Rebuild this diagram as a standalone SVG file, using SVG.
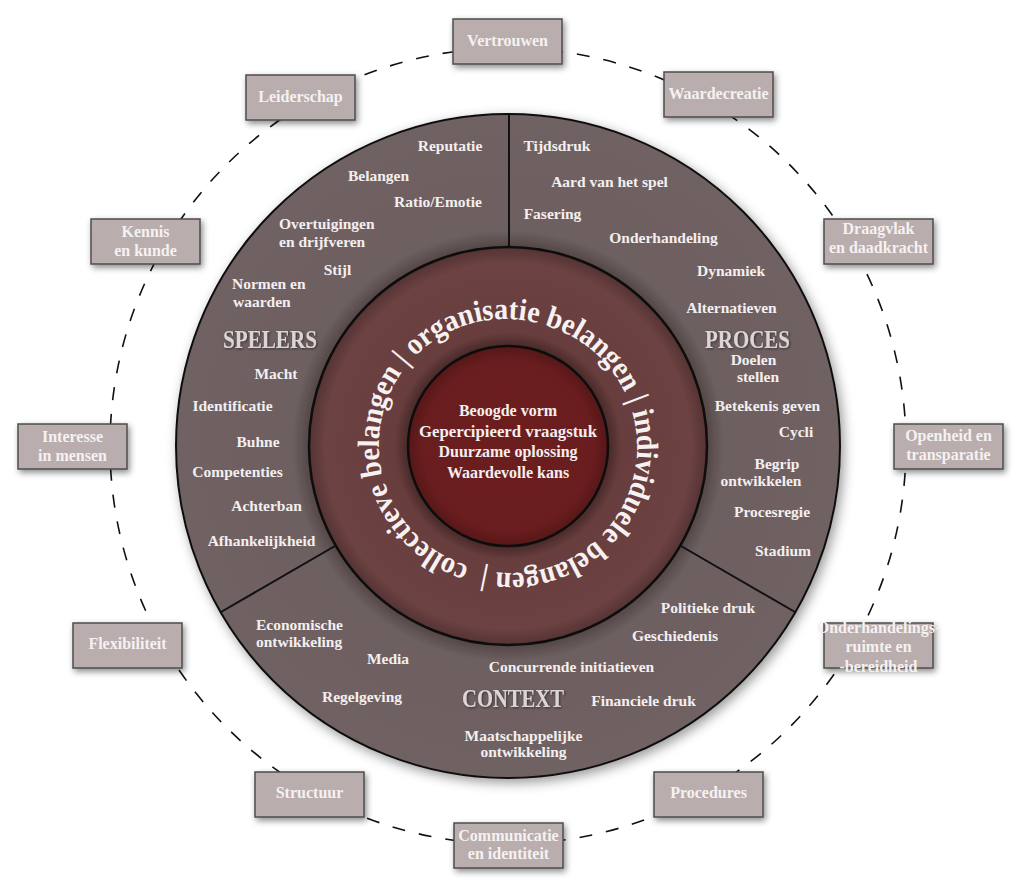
<svg xmlns="http://www.w3.org/2000/svg" width="1024" height="890" viewBox="0 0 1024 890">
<defs>
<filter id="shadow" x="-20%" y="-20%" width="140%" height="150%">
<feDropShadow dx="2" dy="3" stdDeviation="3" flood-color="#000" flood-opacity="0.45"/>
</filter>
<filter id="bigshadow" x="-10%" y="-10%" width="120%" height="120%">
<feDropShadow dx="3" dy="4" stdDeviation="6" flood-color="#000" flood-opacity="0.4"/>
</filter>
<filter id="txtshadow" x="-10%" y="-30%" width="120%" height="160%">
<feDropShadow dx="1" dy="1" stdDeviation="1" flood-color="#2a2020" flood-opacity="0.8"/>
</filter>
<radialGradient id="ringGrad" gradientUnits="userSpaceOnUse" cx="508" cy="446" r="199">
<stop offset="0.5" stop-color="#462828"/>
<stop offset="0.57" stop-color="#683d3d"/>
<stop offset="0.92" stop-color="#6c4242"/>
<stop offset="1" stop-color="#553333"/>
</radialGradient>
<radialGradient id="innerGrad" gradientUnits="userSpaceOnUse" cx="508" cy="446" r="100">
<stop offset="0" stop-color="#6c1e1f"/>
<stop offset="0.85" stop-color="#6a1d1e"/>
<stop offset="1" stop-color="#561718"/>
</radialGradient>
<radialGradient id="mainGrad" gradientUnits="userSpaceOnUse" cx="508" cy="446" r="332">
<stop offset="0.6" stop-color="#554747"/>
<stop offset="0.65" stop-color="#6d6060"/>
<stop offset="1" stop-color="#706263"/>
</radialGradient>
<path id="ringPath" d="M469.1,565.8 A126,126 0 1,1 546.9,326.2 A126,126 0 1,1 469.1,565.8"/>
</defs>
<style>
.box{fill:#b9adae;stroke:#4d4d4d;stroke-width:1.5;}
.bt{font-family:"Liberation Serif",serif;font-weight:bold;font-size:16px;fill:#f6f1f1;text-anchor:middle;}
.it{font-family:"Liberation Serif",serif;font-weight:bold;font-size:15.5px;fill:#f4efef;}
.m{text-anchor:middle;}
.sec{font-family:"Liberation Serif",serif;font-weight:bold;font-size:25px;fill:#dcd5d5;}
.ring{font-family:"Liberation Serif",serif;font-weight:bold;font-size:30.5px;fill:#f7f2f2;}
.core{font-family:"Liberation Serif",serif;font-weight:bold;font-size:16px;fill:#f4eeee;text-anchor:middle;}
</style>
<rect width="1024" height="890" fill="#ffffff"/>

<g id="connectors">
<circle cx="508" cy="446" r="398" fill="none" stroke="#111" stroke-width="1.6" stroke-dasharray="13 14"/>
</g>

<g id="main-circle">
<circle cx="508" cy="446" r="332" fill="url(#mainGrad)" stroke="#111" stroke-width="2" filter="url(#bigshadow)"/>
<line x1="509" y1="115" x2="509" y2="248" stroke="#111" stroke-width="2"/>
<line x1="335" y1="546" x2="221" y2="612" stroke="#111" stroke-width="2"/>
<line x1="681" y1="546" x2="795" y2="612" stroke="#111" stroke-width="2"/>
</g>

<g id="ring">
<circle cx="508" cy="446" r="199" fill="url(#ringGrad)" stroke="#0d0d0d" stroke-width="2.5"/>
<text class="ring"><textPath href="#ringPath" textLength="790" lengthAdjust="spacingAndGlyphs">collectieve belangen | organisatie belangen | individuele belangen | </textPath></text>
</g>

<g id="core">
<circle cx="508" cy="446" r="100" fill="url(#innerGrad)" stroke="#0d0d0d" stroke-width="2.5"/>
<text class="core" x="508" y="416">Beoogde vorm</text>
<text class="core" x="508" y="436.5" textLength="178" lengthAdjust="spacingAndGlyphs">Gepercipieerd vraagstuk</text>
<text class="core" x="508" y="457">Duurzame oplossing</text>
<text class="core" x="508" y="477.5">Waardevolle kans</text>
</g>

<g id="spelers">
<text class="sec" x="223" y="348" textLength="94" lengthAdjust="spacingAndGlyphs" filter="url(#txtshadow)">SPELERS</text>
<text class="it m" x="450" y="151">Reputatie</text>
<text class="it m" x="378.5" y="181">Belangen</text>
<text class="it m" x="438" y="207">Ratio/Emotie</text>
<text class="it" x="279" y="229">Overtuigingen</text>
<text class="it" x="279" y="247">en drijfveren</text>
<text class="it m" x="337.5" y="275">Stijl</text>
<text class="it" x="232" y="289">Normen en</text>
<text class="it" x="233" y="307">waarden</text>
<text class="it m" x="276" y="379">Macht</text>
<text class="it m" x="232.5" y="411">Identificatie</text>
<text class="it m" x="258" y="447">Buhne</text>
<text class="it m" x="237.5" y="477">Competenties</text>
<text class="it m" x="266.5" y="511">Achterban</text>
<text class="it m" x="261.5" y="546">Afhankelijkheid</text>
</g>

<g id="proces">
<text class="sec" x="705" y="348" textLength="85" lengthAdjust="spacingAndGlyphs" filter="url(#txtshadow)">PROCES</text>
<text class="it m" x="557" y="151">Tijdsdruk</text>
<text class="it m" x="609.5" y="187">Aard van het spel</text>
<text class="it m" x="552.5" y="219">Fasering</text>
<text class="it m" x="663.5" y="243">Onderhandeling</text>
<text class="it m" x="731" y="276">Dynamiek</text>
<text class="it m" x="731.5" y="313">Alternatieven</text>
<text class="it m" x="753.5" y="365">Doelen</text>
<text class="it m" x="758" y="382">stellen</text>
<text class="it m" x="767.5" y="411">Betekenis geven</text>
<text class="it m" x="796" y="437">Cycli</text>
<text class="it m" x="777" y="469">Begrip</text>
<text class="it m" x="761" y="486">ontwikkelen</text>
<text class="it m" x="772" y="517">Procesregie</text>
<text class="it m" x="783" y="556">Stadium</text>
</g>

<g id="context">
<text class="sec" x="462" y="707" textLength="102" lengthAdjust="spacingAndGlyphs" filter="url(#txtshadow)">CONTEXT</text>
<text class="it" x="256" y="630">Economische</text>
<text class="it" x="256" y="647">ontwikkeling</text>
<text class="it m" x="388" y="664">Media</text>
<text class="it m" x="362" y="702">Regelgeving</text>
<text class="it m" x="571.5" y="672">Concurrende initiatieven</text>
<text class="it m" x="523.5" y="741">Maatschappelijke</text>
<text class="it m" x="523.5" y="757">ontwikkeling</text>
<text class="it m" x="708" y="613">Politieke druk</text>
<text class="it m" x="675" y="641">Geschiedenis</text>
<text class="it m" x="643.5" y="706">Financiele druk</text>
</g>

<g id="vertrouwen"><rect class="box" x="453" y="19" width="109" height="45" filter="url(#shadow)"/><text class="bt" x="507.5" y="46">Vertrouwen</text></g>
<g id="leiderschap"><rect class="box" x="246" y="75" width="109" height="45" filter="url(#shadow)"/><text class="bt" x="300.5" y="102">Leiderschap</text></g>
<g id="kennis"><rect class="box" x="91" y="219" width="109" height="45" filter="url(#shadow)"/><text class="bt" x="145.5" y="237">Kennis</text><text class="bt" x="145.5" y="256">en kunde</text></g>
<g id="waardecreatie"><rect class="box" x="664" y="72" width="109" height="45" filter="url(#shadow)"/><text class="bt" x="718.5" y="99">Waardecreatie</text></g>
<g id="draagvlak"><rect class="box" x="824" y="219" width="109" height="45" filter="url(#shadow)"/><text class="bt" x="878.5" y="234">Draagvlak</text><text class="bt" x="878.5" y="253">en daadkracht</text></g>
<g id="interesse"><rect class="box" x="18" y="424" width="109" height="45" filter="url(#shadow)"/><text class="bt" x="72.5" y="442">Interesse</text><text class="bt" x="72.5" y="461">in mensen</text></g>
<g id="openheid"><rect class="box" x="894" y="424" width="109" height="45" filter="url(#shadow)"/><text class="bt" x="948.5" y="441">Openheid en</text><text class="bt" x="948.5" y="460">transparatie</text></g>
<g id="flexibiliteit"><rect class="box" x="73" y="623" width="109" height="45" filter="url(#shadow)"/><text class="bt" x="127.5" y="649">Flexibiliteit</text></g>
<g id="onderhandelingsruimte"><rect class="box" x="824" y="623" width="109" height="45" filter="url(#shadow)"/><text class="bt" x="878.5" y="633">Onderhandelings-</text><text class="bt" x="878.5" y="652">ruimte en</text><text class="bt" x="878.5" y="672">-bereidheid</text></g>
<g id="structuur"><rect class="box" x="255" y="772" width="109" height="45" filter="url(#shadow)"/><text class="bt" x="309.5" y="798">Structuur</text></g>
<g id="procedures"><rect class="box" x="654" y="772" width="109" height="45" filter="url(#shadow)"/><text class="bt" x="708.5" y="798">Procedures</text></g>
<g id="communicatie"><rect class="box" x="454" y="823" width="109" height="45" filter="url(#shadow)"/><text class="bt" x="508.5" y="841">Communicatie</text><text class="bt" x="508.5" y="859">en identiteit</text></g>
</svg>
